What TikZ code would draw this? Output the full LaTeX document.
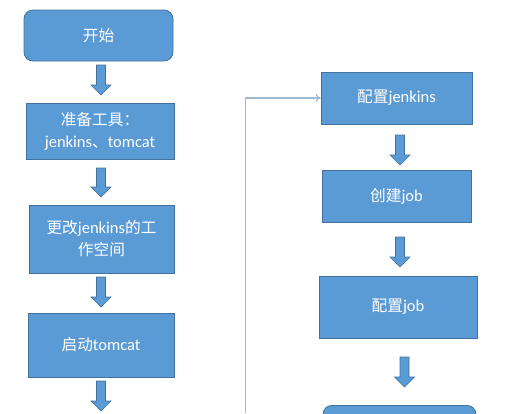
\documentclass[tikz,border=0pt]{standalone}
\usepackage{fontspec}
\setmainfont{Carlito}
\newfontfamily\cjk{Noto Sans CJK SC}[Scale=0.95]
\usetikzlibrary{arrows.meta}
\definecolor{boxfill}{HTML}{5B9BD5}
\definecolor{boxline}{HTML}{41719C}
\definecolor{linkline}{HTML}{9FB8D0}
\tikzset{
  stepbox/.style={draw=boxline, fill=boxfill, line width=0.8pt, text=white,
    inner sep=0pt, align=center, font=\fontsize{16.5}{22}\selectfont},
  roundbox/.style={stepbox, rounded corners=9pt},
  blockarr/.style={draw=boxline, fill=boxfill, line width=0.6pt},
  link/.style={draw=linkline, line width=1.1pt, -{To[length=5pt,width=8pt]}},
}
% block arrow: center x, top y, bottom y
\newcommand\blockarrow[3]{%
  \path[blockarr] (#1-4.5,#2) -- (#1+4.5,#2) -- (#1+4.5,#3-10) -- (#1+10,#3-10)
    -- (#1,#3) -- (#1-10,#3-10) -- (#1-4.5,#3-10) -- cycle;}
\begin{document}
\begin{tikzpicture}[x=1pt,y=-1pt]
\useasboundingbox (0,0) rectangle (514,413);
% left column
\node[roundbox, minimum width=149, minimum height=51] (start) at (98.5,35.5) {{\cjk 开始}};
\node[stepbox, minimum width=148, minimum height=56] (tools) at (100,131) {{\cjk 准备工具：}\\jenkins{\cjk 、}tomcat};
\node[stepbox, minimum width=145, minimum height=68] (ws) at (101.5,239) {{\cjk 更改}jenkins{\cjk 的工}\\{\cjk 作空间}};
\node[stepbox, minimum width=146, minimum height=64] (tomcat) at (101,345) {{\cjk 启动}tomcat};
\blockarrow{101}{65}{95}
\blockarrow{101}{168}{197}
\blockarrow{101}{277}{307}
\blockarrow{101}{381}{411}
% right column
\node[stepbox, minimum width=151, minimum height=52] (cfgj) at (396.5,98) {{\cjk 配置}jenkins};
\node[stepbox, minimum width=149, minimum height=52] (job) at (396.5,196) {{\cjk 创建}job};
\node[stepbox, minimum width=158, minimum height=62] (cfgjob) at (398,307) {{\cjk 配置}job};
\node[roundbox, minimum width=153, minimum height=40, anchor=north] (last) at (399.5,405) {};
\blockarrow{400}{135}{165}
\blockarrow{400}{237}{267}
\blockarrow{404.5}{357}{387}
% feedback connector
\coordinate (loop) at (245.5,413);
\draw[link] (loop) |- (cfgj.west);
\end{tikzpicture}
\end{document}
